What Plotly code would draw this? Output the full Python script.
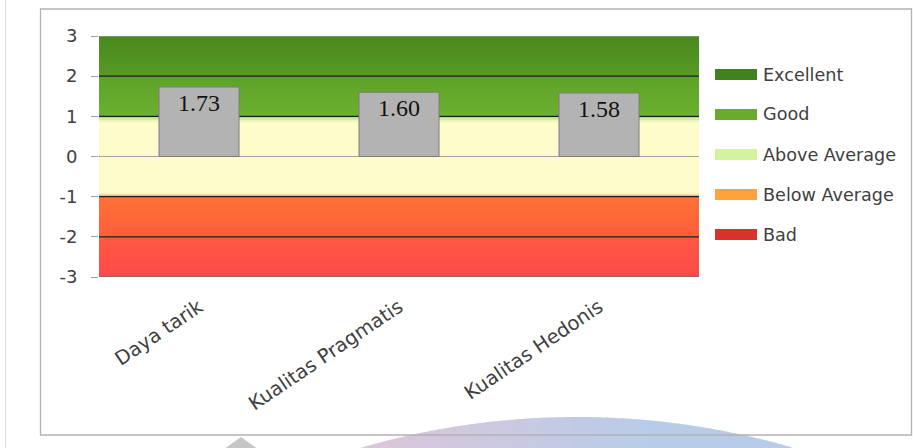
import numpy as np
import plotly.graph_objects as go

# ---- data -------------------------------------------------------------
categories = ["Daya tarik", "Kualitas Pragmatis", "Kualitas Hedonis"]
scores = [1.73, 1.60, 1.58]
score_labels = ["1.73", "1.60", "1.58"]
y_ticks = [3, 2, 1, 0, -1, -2, -3]

legend_names = ["Excellent", "Good", "Above Average", "Below Average", "Bad"]
legend_colors = ["#41821f", "#6aaa2e", "#d3f39c", "#ffa23a", "#d8322a"]

# benchmark boundaries drawn as dark rules across the plot
band_edges = [2, 1, -1, -2]
# plain gridlines
grid_values = [3, 0]

# vertical colour stops of the benchmark background (value, colour)
bg_stops = [
    (3.00, "#4a891e"), (2.01, "#589a26"), (1.99, "#5ea229"), (1.00, "#6cb02f"),
    (0.97, "#c4e294"), (0.84, "#fffccc"), (-0.90, "#fffccc"), (-0.96, "#ffd49a"),
    (-1.00, "#ff7234"), (-2.00, "#ff5d3d"), (-2.01, "#ff5a41"), (-3.00, "#ff4a4a"),
]

# ---- geometry of the figure (pixels) ------------------------------------
FIG_W, FIG_H = 913, 448
PL, PT, PW, PH = 99, 36, 600, 241


def px(x):
    return (x - PL) / PW


def py(y):
    return (PT + PH - y) / PH


def hex_rgb(h):
    h = h.lstrip("#")
    return np.array([int(h[i:i + 2], 16) for i in (0, 2, 4)], dtype=float)


def mix(c1, c2, t):
    c = hex_rgb(c1) * (1 - t) + hex_rgb(c2) * t
    return "rgb({:.0f},{:.0f},{:.0f})".format(*c)


def colour_at(v):
    for (v0, c0), (v1, c1) in zip(bg_stops[:-1], bg_stops[1:]):
        if v1 <= v <= v0:
            t = 0 if v0 == v1 else (v0 - v) / (v0 - v1)
            return mix(c0, c1, t)
    return bg_stops[-1][1]


shapes = []

# gradient background of the benchmark bands (overlapping strips, bottom up)
step = 0.03
edges = np.arange(-3, 3 + step / 2, step)
for lo, hi in zip(edges[:-1], edges[1:]):
    shapes.append(dict(type="rect", xref="paper", yref="y", x0=0, x1=1,
                       y0=lo, y1=min(hi + step * 1.5, 3), layer="below",
                       line=dict(width=0), fillcolor=colour_at((lo + hi) / 2)))

# gridlines and band boundary rules, beneath the bars
for g in grid_values:
    shapes.append(dict(type="line", xref="paper", yref="y", x0=0, x1=1, y0=g, y1=g,
                       layer="below", line=dict(color="#a3a3a3", width=1.2)))
for e in band_edges:
    shapes.append(dict(type="line", xref="paper", yref="y", x0=0, x1=1, y0=e, y1=e,
                       layer="below", line=dict(color="#1f1f1f", width=1.4)))
shapes.append(dict(type="line", xref="paper", yref="y", x0=0, x1=1, y0=-3, y1=-3,
                   layer="below", line=dict(color="#6e6e6e", width=1.4)))

# soft decorative arc below the chart frame
cx, cy, R = 577, 1192, 775
strip_x = np.arange(358, 798, 8)
arc_left, arc_right = "#dcc6d9", "#b8cce8"
for xa, xb in zip(strip_x[:-1], strip_x[1:]):
    xs = np.linspace(xa, xb + 1.5, 5)
    tops = cy - np.sqrt(np.clip(R ** 2 - (xs - cx) ** 2, 0, None))
    pts = [(x, min(t, 452)) for x, t in zip(xs, tops)]
    path = "M {:.4f},{:.4f} ".format(px(pts[0][0]), py(452))
    for x, t in pts:
        path += "L {:.4f},{:.4f} ".format(px(x), py(t))
    path += "L {:.4f},{:.4f} Z".format(px(pts[-1][0]), py(452))
    t = (xa - strip_x[0]) / (strip_x[-1] - strip_x[0])
    t = min(1, t * 1.5)
    shapes.append(dict(type="path", xref="paper", yref="paper", path=path,
                       line=dict(width=0), fillcolor=mix(arc_left, arc_right, t)))

# small grey marker below the frame
shapes.append(dict(type="path", xref="paper", yref="paper",
                   path="M {:.4f},{:.4f} L {:.4f},{:.4f} L {:.4f},{:.4f} Z".format(
                       px(220), py(452), px(241), py(437), px(262), py(452)),
                   line=dict(width=0), fillcolor="#c6c6c6"))

# chart frame and page edge
shapes.append(dict(type="rect", xref="paper", yref="paper",
                   x0=px(40.5), x1=px(911.5), y0=py(435), y1=py(9),
                   line=dict(color="#b3b3b3", width=1.3), fillcolor="rgba(0,0,0,0)"))
shapes.append(dict(type="line", xref="paper", yref="paper",
                   x0=px(5.5), x1=px(5.5), y0=py(0), y1=py(448),
                   line=dict(color="#dcdcdc", width=1)))

# legend swatches and labels
annotations = []
for i, (name, col) in enumerate(zip(legend_names, legend_colors)):
    yc = 74.5 + 40 * i
    shapes.append(dict(type="rect", xref="paper", yref="paper",
                       x0=px(715), x1=px(757), y0=py(yc + 5.5), y1=py(yc - 5.5),
                       line=dict(width=0), fillcolor=col))
    annotations.append(dict(xref="paper", yref="paper", x=px(761), y=py(yc),
                            xanchor="left", yanchor="middle", showarrow=False,
                            text=name, font=dict(family="DejaVu Sans", size=17.6,
                                                 color="#404040")))

fig = go.Figure()
fig.add_trace(go.Bar(
    x=categories, y=scores, width=0.4,
    marker=dict(color="#b3b3b3", line=dict(color="#7c7c7c", width=1)),
    text=score_labels, textposition="inside", insidetextanchor="end",
    textfont=dict(family="Liberation Serif", size=24, color="#111111"),
    showlegend=False, hoverinfo="skip",
))

fig.update_layout(
    width=FIG_W, height=FIG_H,
    margin=dict(l=PL, r=FIG_W - PL - PW, t=PT, b=FIG_H - PT - PH),
    paper_bgcolor="white", plot_bgcolor="white",
    shapes=shapes, annotations=annotations, showlegend=False,
    bargap=0.6,
)
fig.update_xaxes(
    type="category", range=[-0.5, 2.5], tickangle=-34, showgrid=False,
    zeroline=False, ticks="", showline=False, ticklabelstandoff=14,
    tickfont=dict(family="DejaVu Sans", size=19.5, color="#404040"),
)
fig.update_yaxes(
    range=[-3, 3], tickvals=y_ticks, ticktext=[str(v) for v in y_ticks],
    showgrid=False, zeroline=False,
    ticks="outside", ticklen=7, tickcolor="#a3a3a3", ticklabelstandoff=10,
    tickfont=dict(family="DejaVu Sans", size=18, color="#404040"),
)

fig.write_html("out.html")
